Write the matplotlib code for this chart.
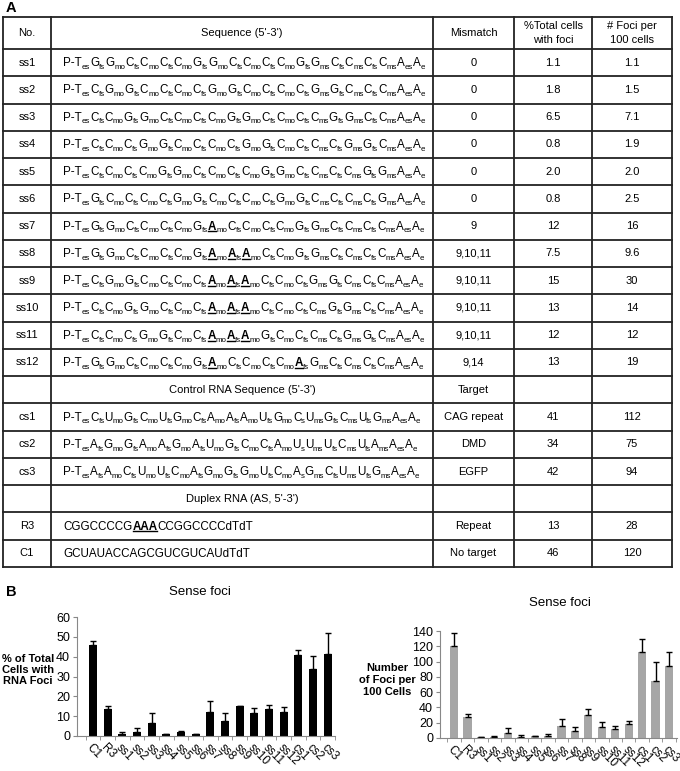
import matplotlib.pyplot as plt
import numpy as np

plt.rcParams['font.family'] = ['Liberation Sans', 'DejaVu Sans']

# Panel A table contents
row_ids = ["ss1", "ss2", "ss3", "ss4", "ss5", "ss6", "ss7", "ss8", "ss9", "ss10", "ss11", "ss12",
           "", "cs1", "cs2", "cs3", "", "R3", "C1"]

# tokens: base:subscript, '*' after the base = bold + underlined, '#' = centered section header
row_seqs = [
    "P-T:es G:fs G:mo C:fs C:mo C:fs C:mo G:fs G:mo C:fs C:mo C:fs C:mo G:fs G:ms C:fs C:ms C:fs C:ms A:es A:e",
    "P-T:es C:fs G:mo G:fs C:mo C:fs C:mo C:fs G:mo G:fs C:mo C:fs C:mo C:fs G:ms G:fs C:ms C:fs C:ms A:es A:e",
    "P-T:es C:fs C:mo G:fs G:mo C:fs C:mo C:fs C:mo G:fs G:mo C:fs C:mo C:fs C:ms G:fs G:ms C:fs C:ms A:es A:e",
    "P-T:es C:fs C:mo C:fs G:mo G:fs C:mo C:fs C:mo C:fs G:mo G:fs C:mo C:fs C:ms C:fs G:ms G:fs C:ms A:es A:e",
    "P-T:es C:fs C:mo C:fs C:mo G:fs G:mo C:fs C:mo C:fs C:mo G:fs G:mo C:fs C:ms C:fs C:ms G:fs G:ms A:es A:e",
    "P-T:es G:fs C:mo C:fs C:mo C:fs G:mo G:fs C:mo C:fs C:mo C:fs G:mo G:fs C:ms C:fs C:ms C:fs G:ms A:es A:e",
    "P-T:es G:fs G:mo C:fs C:mo C:fs C:mo G:fs A*:mo C:fs C:mo C:fs C:mo G:fs G:ms C:fs C:ms C:fs C:ms A:es A:e",
    "P-T:es G:fs G:mo C:fs C:mo C:fs C:mo G:fs A*:mo A*:fs A*:mo C:fs C:mo G:fs G:ms C:fs C:ms C:fs C:ms A:es A:e",
    "P-T:es C:fs G:mo G:fs C:mo C:fs C:mo C:fs A*:mo A*:fs A*:mo C:fs C:mo C:fs G:ms G:fs C:ms C:fs C:ms A:es A:e",
    "P-T:es C:fs C:mo G:fs G:mo C:fs C:mo C:fs A*:mo A*:fs A*:mo C:fs C:mo C:fs C:ms G:fs G:ms C:fs C:ms A:es A:e",
    "P-T:es C:fs C:mo C:fs G:mo G:fs C:mo C:fs A*:mo A*:fs A*:mo G:fs C:mo C:fs C:ms C:fs G:ms G:fs C:ms A:es A:e",
    "P-T:es G:fs G:mo C:fs C:mo C:fs C:mo G:fs A*:mo C:fs C:mo C:fs C:mo A*:fs G:ms C:fs C:ms C:fs C:ms A:es A:e",
    "#Control RNA Sequence (5'-3')",
    "P-T:es C:fs U:mo G:fs C:mo U:fs G:mo C:fs A:mo A:fs A:mo U:fs G:mo C:s U:ms G:fs C:ms U:fs G:ms A:es A:e",
    "P-T:es A:fs G:mo G:fs A:mo A:fs G:mo A:fs U:mo G:fs C:mo C:fs A:mo U:s U:ms U:fs C:ms U:fs A:ms A:es A:e",
    "P-T:es A:fs A:mo C:fs U:mo U:fs C:mo A:fs G:mo G:fs G:mo U:fs C:mo A:s G:ms C:fs U:ms U:fs G:ms A:es A:e",
    "#Duplex RNA (AS, 5'-3')",
    "CGGCCCCG AAA* CCGGCCCCdTdT",
    "GCUAUACCAGCGUCGUCAUdTdT",
]
row_col3 = ["0", "0", "0", "0", "0", "0", "9", "9,10,11", "9,10,11", "9,10,11", "9,10,11", "9,14",
            "Target", "CAG repeat", "DMD", "EGFP", "", "Repeat", "No target"]
row_col4 = ["1.1", "1.8", "6.5", "0.8", "2.0", "0.8", "12", "7.5", "15", "13", "12", "13",
            "", "41", "34", "42", "", "13", "46"]
row_col5 = ["1.1", "1.5", "7.1", "1.9", "2.0", "2.5", "16", "9.6", "30", "14", "12", "19",
            "", "112", "75", "94", "", "28", "120"]
headers = ["No.", "Sequence (5'-3')", "Mismatch", "%Total cells\nwith foci", "# Foci per\n100 cells"]

# Panel B bar charts
bar_labels = ["C1", "R3", "ss1", "ss2", "ss3", "ss4", "ss5", "ss6", "ss7", "ss8", "ss9",
              "ss10", "ss11", "ss12", "cs1", "cs2", "cs3"]
pct_mean = [46, 13.5, 1.1, 1.8, 6.5, 0.8, 2.0, 0.8, 12, 7.5, 15, 11.5, 13.8, 12.3, 41, 34, 41.5]
pct_err = [2, 1.5, 1, 2, 5, 0.3, 0.7, 0.2, 5.5, 4, 0.3, 2.5, 2, 2.3, 2.5, 6.5, 10.5]
foci_mean = [120, 28, 1.1, 1.5, 7.1, 1.9, 2.0, 2.5, 16, 9.6, 30, 14, 12, 18, 112, 75, 94]
foci_err = [17, 4, 0.5, 1.5, 6, 2, 0.8, 2.5, 9.5, 5, 7.5, 6.5, 3.5, 4.5, 18, 25, 18]

W, H = 680, 771
fig = plt.figure(figsize=(W / 100, H / 100), dpi=100)
ax = fig.add_axes([0, 0, 1, 1])
ax.set_xlim(0, W)
ax.set_ylim(H, 0)
ax.axis('off')
r = fig.canvas.get_renderer()

fs = 8
fs_base = 8.4
fs_sub = 5.7
col_x = [3, 51, 433, 514, 592, 672]
top, head_bot, row_h = 17, 49, 27.26
n_rows = len(row_ids)
row_y = [head_bot + row_h * (i + 1) for i in range(n_rows)]

# grid
lc = '#222222'
for yy in [top, head_bot] + row_y:
    ax.plot([col_x[0], col_x[-1]], [yy, yy], color=lc, lw=1.3, solid_capstyle='projecting')
for xx in col_x:
    ax.plot([xx, xx], [top, row_y[-1]], color=lc, lw=1.3, solid_capstyle='projecting')

centers = [(col_x[i] + col_x[i + 1]) / 2 for i in range(5)]
for c, h in zip(centers, headers):
    ax.text(c, (top + head_bot) / 2, h, ha='center', va='center', fontsize=fs, linespacing=1.4)


def draw_seq(x, y, spec):
    for tok in spec.split():
        base, _, sub = tok.partition(':')
        bold = base.endswith('*')
        base = base.rstrip('*')
        t = ax.text(x, y, base, fontsize=fs_base, fontweight='bold' if bold else 'normal',
                    ha='left', va='baseline')
        w = t.get_window_extent(r).width
        if bold:
            ax.plot([x + 0.3, x + w - 0.3], [y + 1.8, y + 1.8], color='k', lw=1.0)
        x += w
        if sub:
            t2 = ax.text(x, y + 2.8, sub, fontsize=fs_sub, ha='left', va='baseline')
            x += t2.get_window_extent(r).width
    return x


for i in range(n_rows):
    yc = row_y[i] - row_h / 2
    ax.text(centers[0], yc, row_ids[i], ha='center', va='center', fontsize=fs)
    seq = row_seqs[i]
    if seq.startswith('#'):
        ax.text(centers[1], yc, seq[1:], ha='center', va='center', fontsize=fs)
    else:
        draw_seq(63, yc + 3.5, seq)
    ax.text(centers[2], yc, row_col3[i], ha='center', va='center', fontsize=fs)
    ax.text(centers[3], yc, row_col4[i], ha='center', va='center', fontsize=fs)
    ax.text(centers[4], yc, row_col5[i], ha='center', va='center', fontsize=fs)

ax.text(6, 8, "A", fontsize=10.5, fontweight='bold', ha='left', va='center')
ax.text(6, 592, "B", fontsize=10.5, fontweight='bold', ha='left', va='center')

# bar charts
x = np.arange(len(bar_labels))
n = len(bar_labels)


def style_axis(a):
    for s in ['top', 'right']:
        a.spines[s].set_visible(False)
    for s in ['left', 'bottom']:
        a.spines[s].set_color('#888888')
        a.spines[s].set_linewidth(0.8)
    a.set_xticks(x)
    a.set_xticklabels(bar_labels, rotation=-45, ha='left', rotation_mode='anchor', fontsize=8.5)
    a.tick_params(axis='x', length=0, pad=4)
    a.set_xticks(np.arange(-0.5, n, 1), minor=True)
    a.tick_params(axis='x', which='minor', length=3, color='#888888')
    a.tick_params(axis='y', length=3, color='#888888', labelsize=9, pad=2)


ax1 = fig.add_axes([77 / W, 35 / H, 258 / W, 119 / H])
ax1.bar(x, pct_mean, width=0.55, color='black',
        yerr=[np.zeros(n), pct_err], error_kw=dict(ecolor='black', capsize=2.5, elinewidth=1, capthick=1))
ax1.set_ylim(0, 60)
ax1.set_yticks(range(0, 61, 10))
ax1.set_xlim(-1.1, 16.5)
style_axis(ax1)

ax2 = fig.add_axes([440 / W, 33 / H, 237 / W, 107 / H])
ax2.bar(x, foci_mean, width=0.6, color='#a6a6a6',
        yerr=[np.zeros(n), foci_err], error_kw=dict(ecolor='black', capsize=2.5, elinewidth=1, capthick=1))
ax2.set_ylim(0, 140)
ax2.set_yticks(range(0, 141, 20))
ax2.set_xlim(-1.05, 16.6)
style_axis(ax2)

fig.text(200 / W, 1 - 592 / H, "Sense foci", ha='center', va='center', fontsize=9.5)
fig.text(560 / W, 1 - 603 / H, "Sense foci", ha='center', va='center', fontsize=9.5)
fig.text(28 / W, 1 - 670 / H, "% of Total\nCells with\nRNA Foci", ha='center', va='center',
         fontsize=8, fontweight='bold', linespacing=1.1)
fig.text(387 / W, 1 - 680 / H, "Number\nof Foci per\n100 Cells", ha='center', va='center',
         fontsize=8, fontweight='bold', linespacing=1.25)

fig.savefig("out.png", dpi=100)
